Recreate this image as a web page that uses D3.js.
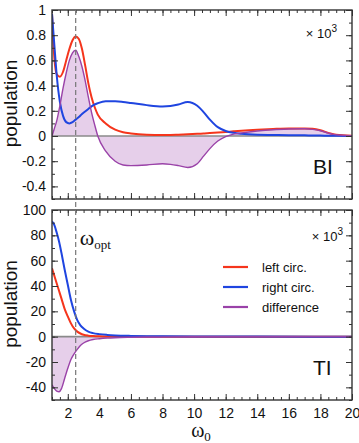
<!DOCTYPE html>
<html>
<head>
<meta charset="utf-8">
<script src="https://cdn.jsdelivr.net/npm/d3@7"></script>
<style>
  body { margin: 0; background: #fff; }
  svg { display: block; font-family: "Liberation Sans", Arial, Helvetica, sans-serif; }
</style>
</head>
<body>
<script>
const w = 359;
const h = 443;
const left = 52, right = 352;

// BI panel (upper)
const omegaBI = [1, 1.15, 1.3, 1.5, 1.7, 1.9, 2.1, 2.3, 2.5, 2.7, 2.9, 3.1, 3.3, 3.5, 3.7, 3.9, 4.4, 5, 5.5, 6, 7, 8, 8.5, 9, 9.6, 10.2, 10.6, 11, 11.5, 12, 12.5, 13, 14, 15, 16, 17, 17.5, 18, 18.5, 19, 20];
const leftBI = [0.97, 0.62, 0.49, 0.47, 0.51, 0.60, 0.69, 0.76, 0.79, 0.77, 0.69, 0.56, 0.42, 0.31, 0.23, 0.17, 0.10, 0.05, 0.03, 0.02, 0.01, 0.008, 0.008, 0.01, 0.013, 0.017, 0.02, 0.023, 0.027, 0.032, 0.037, 0.042, 0.05, 0.056, 0.06, 0.06, 0.057, 0.045, 0.025, 0.01, 0.002];
const rightBI = [0.97, 0.72, 0.48, 0.27, 0.16, 0.11, 0.10, 0.11, 0.13, 0.15, 0.175, 0.195, 0.215, 0.235, 0.25, 0.26, 0.275, 0.275, 0.27, 0.262, 0.245, 0.235, 0.238, 0.25, 0.27, 0.24, 0.19, 0.13, 0.07, 0.04, 0.025, 0.017, 0.01, 0.008, 0.006, 0.005, 0.004, 0.003, 0.002, 0.001, 0];
const diffBI = [0, 0.06, 0.12, 0.24, 0.38, 0.50, 0.60, 0.66, 0.68, 0.63, 0.55, 0.44, 0.31, 0.19, 0.09, 0.0, -0.12, -0.20, -0.23, -0.235, -0.23, -0.22, -0.225, -0.235, -0.25, -0.22, -0.16, -0.10, -0.04, -0.005, 0.015, 0.025, 0.04, 0.05, 0.055, 0.057, 0.053, 0.042, 0.023, 0.009, 0.002];

// TI panel (lower)
const omegaTI = [1, 1.15, 1.3, 1.45, 1.6, 1.8, 2.0, 2.2, 2.4, 2.6, 2.8, 3.0, 3.3, 3.6, 4, 4.5, 5, 6, 7, 8, 10, 14, 20];
const leftTI = [54, 48, 42, 36, 30, 22, 16, 10.5, 6.5, 4, 2.5, 1.5, 0.8, 0.5, 0.3, 0.2, 0.1, 0.05, 0.03, 0.02, 0.01, 0, 0];
const rightTI = [91, 88, 82, 75, 66, 53, 41, 29, 20, 13, 9, 6.5, 4, 2.8, 2, 1.4, 1, 0.6, 0.4, 0.3, 0.15, 0.05, 0];
const diffTI = [-38, -41, -43, -43.5, -41, -33, -25, -18, -13.5, -10, -7, -5, -3.2, -2.2, -1.6, -1.1, -0.8, -0.5, -0.3, -0.2, -0.1, 0, 0];

const xTicks = [2, 4, 6, 8, 10, 12, 14, 16, 18, 20];
const yTicksBI = [-0.4, -0.2, 0, 0.2, 0.4, 0.6, 0.8, 1];
const yLabelsBI = ["-0.4", "-0.2", "0", "0.2", "0.4", "0.6", "0.8", "1"];
const yTicksTI = [-40, -20, 0, 20, 40, 60, 80, 100];
const yLabelsTI = ["-40", "-20", "0", "20", "40", "60", "80", "100"];
const omegaOpt = 2.5;
const seriesNames = ["left circ.", "right circ.", "difference"];
const seriesColors = ["#f5351c", "#1f45e0", "#9a42a8"];
const fillColor = "#e6cfea";

const x = d3.scaleLinear().domain([1, 20]).range([left, right]);
const xMinor = d3.range(1, 20.01, 0.5);

const svg = d3.select('body').append('svg')
  .attr('width', w)
  .attr('height', h);

function drawPanel(o) {
  const y = d3.scaleLinear().domain(o.domain).range([o.bottom, o.top]);
  const g = svg.append('g');
  const clipId = 'clip' + o.name;
  svg.append('clipPath').attr('id', clipId)
    .append('rect').attr('x', left).attr('y', o.top).attr('width', right - left).attr('height', o.bottom - o.top);

  const plot = g.append('g').attr('clip-path', `url(#${clipId})`);
  const pts = (vals) => o.omega.map((v, i) => [v, vals[i]]);

  plot.append('path')
    .datum(pts(o.diff))
    .attr('fill', fillColor)
    .attr('d', d3.area().x(d => x(d[0])).y0(y(0)).y1(d => y(d[1])).curve(d3.curveMonotoneX));

  plot.append('line')
    .attr('x1', left).attr('x2', right)
    .attr('y1', y(0)).attr('y2', y(0))
    .attr('stroke', '#8a8a8a').attr('stroke-width', 1.6);

  const line = d3.line().x(d => x(d[0])).y(d => y(d[1])).curve(d3.curveMonotoneX);
  [o.left, o.right, o.diff].forEach((vals, i) => {
    plot.append('path')
      .datum(pts(vals))
      .attr('fill', 'none')
      .attr('stroke', seriesColors[i])
      .attr('stroke-width', i == 2 ? 1.4 : 2)
      .attr('d', line);
  });

  // ticks on all sides, pointing inward
  const yMinor = d3.range(o.domain[0], o.domain[1] + o.minorStep / 2, o.minorStep);
  const clean = a => a.call(s => s.select('.domain').remove())
    .call(s => s.selectAll('line').attr('stroke', '#333'));

  g.append('g').attr('transform', `translate(${left},0)`)
    .call(d3.axisLeft(y).tickValues(o.ticks).tickFormat((d, i) => o.labels[i]).tickSize(-6).tickPadding(6))
    .call(clean)
    .call(s => s.selectAll('text').attr('font-size', 14).attr('fill', '#111').attr('font-family', null));
  g.append('g').attr('transform', `translate(${left},0)`)
    .call(d3.axisLeft(y).tickValues(yMinor).tickFormat('').tickSize(-3)).call(clean);
  g.append('g').attr('transform', `translate(${right},0)`)
    .call(d3.axisRight(y).tickValues(o.ticks).tickFormat('').tickSize(-6)).call(clean);
  g.append('g').attr('transform', `translate(${right},0)`)
    .call(d3.axisRight(y).tickValues(yMinor).tickFormat('').tickSize(-3)).call(clean);

  g.append('g').attr('transform', `translate(0,${o.top})`)
    .call(d3.axisTop(x).tickValues(xTicks).tickFormat('').tickSize(-6)).call(clean);
  g.append('g').attr('transform', `translate(0,${o.top})`)
    .call(d3.axisTop(x).tickValues(xMinor).tickFormat('').tickSize(-3)).call(clean);
  const xb = g.append('g').attr('transform', `translate(0,${o.bottom})`)
    .call(d3.axisBottom(x).tickValues(xTicks).tickFormat(o.xLabels ? d3.format('d') : '').tickSize(-6).tickPadding(8))
    .call(clean);
  xb.selectAll('text').attr('font-size', 14).attr('fill', '#111').attr('font-family', null);
  g.append('g').attr('transform', `translate(0,${o.bottom})`)
    .call(d3.axisBottom(x).tickValues(xMinor).tickFormat('').tickSize(-3)).call(clean);

  g.append('rect')
    .attr('x', left).attr('y', o.top)
    .attr('width', right - left).attr('height', o.bottom - o.top)
    .attr('fill', 'none').attr('stroke', '#333').attr('stroke-width', 1.4);

  // y label
  svg.append('text')
    .attr('transform', `translate(17,${(o.top + o.bottom) / 2 - 1}) rotate(-90)`)
    .attr('text-anchor', 'middle')
    .attr('font-size', 19)
    .attr('fill', '#111')
    .text('population');

  // scale factor
  const sc = svg.append('text')
    .attr('x', o.scaleX).attr('y', o.top + o.scaleDy)
    .attr('text-anchor', 'end')
    .attr('font-size', 13)
    .attr('fill', '#111');
  sc.append('tspan').text('× 10');
  sc.append('tspan').attr('font-size', 10).attr('dy', -6).text('3');

  svg.append('text')
    .attr('x', 313).attr('y', o.bottom - 25)
    .attr('font-size', 21)
    .attr('fill', '#111')
    .text(o.name);
  return y;
}

drawPanel({ name: 'BI', top: 10, bottom: 199, domain: [-0.5, 1], minorStep: 0.1,
  ticks: yTicksBI, labels: yLabelsBI, omega: omegaBI, left: leftBI, right: rightBI, diff: diffBI,
  xLabels: false, scaleX: 337, scaleDy: 28 });
drawPanel({ name: 'TI', top: 210, bottom: 400, domain: [-50, 100], minorStep: 10,
  ticks: yTicksTI, labels: yLabelsTI, omega: omegaTI, left: leftTI, right: rightTI, diff: diffTI,
  xLabels: true, scaleX: 343, scaleDy: 31 });

// omega_opt marker
svg.append('line')
  .attr('x1', x(omegaOpt)).attr('x2', x(omegaOpt))
  .attr('y1', 10).attr('y2', 400)
  .attr('stroke', '#777').attr('stroke-width', 1.2)
  .attr('stroke-dasharray', '5,3');

const opt = svg.append('text')
  .attr('x', x(omegaOpt) + 4).attr('y', 245)
  .attr('font-family', '"Liberation Serif", "DejaVu Serif", serif')
  .attr('font-size', 22)
  .attr('fill', '#111');
opt.append('tspan').text('ω');
opt.append('tspan').attr('font-size', 13).attr('dy', 4).text('opt');

const xl = svg.append('text')
  .attr('x', 201).attr('y', 437)
  .attr('text-anchor', 'middle')
  .attr('font-family', '"Liberation Serif", "DejaVu Serif", serif')
  .attr('font-size', 20)
  .attr('fill', '#111');
xl.append('tspan').text('ω');
xl.append('tspan').attr('font-size', 13).attr('dy', 4).text('0');

// legend
const legend = svg.append('g').attr('transform', 'translate(223,267)');
seriesNames.forEach((name, i) => {
  const row = legend.append('g').attr('transform', `translate(0,${i * 20})`);
  row.append('line').attr('x1', 0).attr('x2', 25)
    .attr('stroke', seriesColors[i]).attr('stroke-width', 2.2);
  row.append('text').attr('x', 39).attr('y', 4.5)
    .attr('font-size', 13).attr('fill', '#111')
    .text(name);
});
</script>
</body>
</html>
